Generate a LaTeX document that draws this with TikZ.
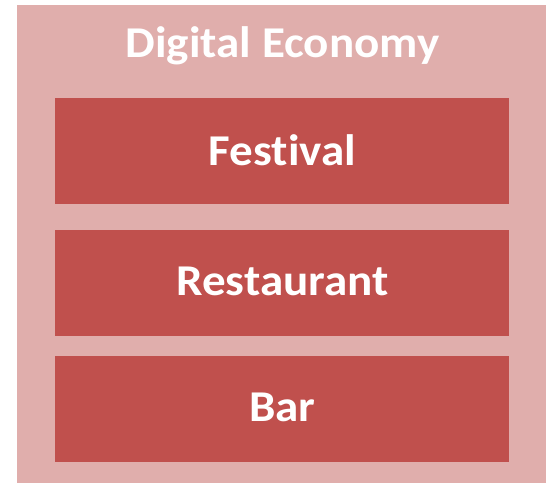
\documentclass[tikz,border=0pt]{standalone}
\usepackage{fontspec}
\setmainfont{Carlito}[Ligatures=NoCommon,FakeStretch=1.07]
\definecolor{outerpink}{RGB}{224,174,172}
\definecolor{innerred}{RGB}{192,80,77}
\begin{document}
\begin{tikzpicture}[x=1pt,y=-1pt,
  boxtext/.style={text=white,font=\bfseries\fontsize{44}{52}\selectfont,anchor=base,inner sep=0pt},
  innerbox/.style={fill=innerred,draw=none}]
\useasboundingbox (0,0) rectangle (546,483);
\fill[outerpink] (17,5) rectangle (546,483);
\fill[innerbox] (55,98) rectangle (509,204);
\fill[innerbox] (55,230) rectangle (509,336);
\fill[innerbox] (55,356) rectangle (509,462);
\node[boxtext] (title) at (282.5,57.5) {Digital Economy};
\node[boxtext] (festival) at (282.5,165) {Festival};
\node[boxtext] (restaurant) at (282.5,295) {Restaurant};
\node[boxtext] (bar) at (282.5,421) {Bar};
\end{tikzpicture}
\end{document}
